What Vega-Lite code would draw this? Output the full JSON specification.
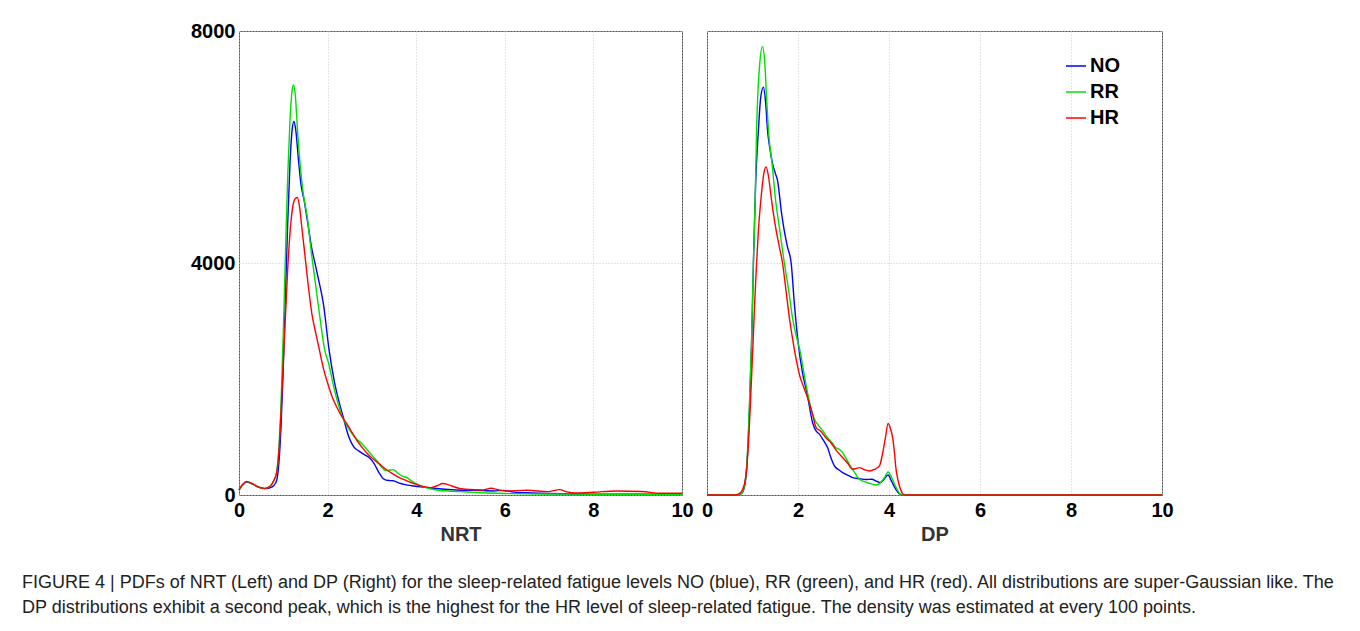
{
  "$schema": "https://vega.github.io/schema/vega-lite/v6.json",
  "padding": {"left": 22, "top": 20, "right": 5, "bottom": 5},
  "background": "white",
  "datasets": {
    "nrt": [
      {"x":0,"d":90,"level":"NO"},{"x":0.08,"d":170,"level":"NO"},{"x":0.17,"d":225,"level":"NO"},{"x":0.3,"d":190,"level":"NO"},{"x":0.45,"d":130,"level":"NO"},{"x":0.58,"d":110,"level":"NO"},{"x":0.7,"d":125,"level":"NO"},{"x":0.78,"d":160,"level":"NO"},{"x":0.85,"d":250,"level":"NO"},{"x":0.9,"d":550,"level":"NO"},{"x":0.95,"d":1200,"level":"NO"},{"x":1.0,"d":2200,"level":"NO"},{"x":1.05,"d":3500,"level":"NO"},{"x":1.1,"d":4700,"level":"NO"},{"x":1.15,"d":5700,"level":"NO"},{"x":1.2,"d":6300,"level":"NO"},{"x":1.24,"d":6440,"level":"NO"},{"x":1.28,"d":6300,"level":"NO"},{"x":1.34,"d":5800,"level":"NO"},{"x":1.4,"d":5350,"level":"NO"},{"x":1.47,"d":5080,"level":"NO"},{"x":1.55,"d":4700,"level":"NO"},{"x":1.64,"d":4260,"level":"NO"},{"x":1.72,"d":3980,"level":"NO"},{"x":1.8,"d":3700,"level":"NO"},{"x":1.91,"d":3270,"level":"NO"},{"x":2.03,"d":2520,"level":"NO"},{"x":2.16,"d":1930,"level":"NO"},{"x":2.26,"d":1600,"level":"NO"},{"x":2.35,"d":1350,"level":"NO"},{"x":2.48,"d":1000,"level":"NO"},{"x":2.59,"d":830,"level":"NO"},{"x":2.7,"d":760,"level":"NO"},{"x":2.82,"d":700,"level":"NO"},{"x":2.93,"d":650,"level":"NO"},{"x":3.05,"d":540,"level":"NO"},{"x":3.15,"d":400,"level":"NO"},{"x":3.28,"d":270,"level":"NO"},{"x":3.38,"d":250,"level":"NO"},{"x":3.48,"d":245,"level":"NO"},{"x":3.6,"d":210,"level":"NO"},{"x":3.75,"d":180,"level":"NO"},{"x":3.9,"d":160,"level":"NO"},{"x":4.1,"d":140,"level":"NO"},{"x":4.41,"d":116,"level":"NO"},{"x":4.88,"d":85,"level":"NO"},{"x":5.2,"d":80,"level":"NO"},{"x":5.5,"d":75,"level":"NO"},{"x":5.75,"d":70,"level":"NO"},{"x":5.96,"d":80,"level":"NO"},{"x":6.2,"d":50,"level":"NO"},{"x":6.6,"d":35,"level":"NO"},{"x":7.0,"d":25,"level":"NO"},{"x":7.5,"d":18,"level":"NO"},{"x":8.0,"d":14,"level":"NO"},{"x":8.5,"d":12,"level":"NO"},{"x":9.0,"d":12,"level":"NO"},{"x":9.5,"d":12,"level":"NO"},{"x":10,"d":10,"level":"NO"},
      {"x":0,"d":80,"level":"RR"},{"x":0.08,"d":170,"level":"RR"},{"x":0.17,"d":230,"level":"RR"},{"x":0.3,"d":190,"level":"RR"},{"x":0.45,"d":130,"level":"RR"},{"x":0.58,"d":110,"level":"RR"},{"x":0.7,"d":150,"level":"RR"},{"x":0.78,"d":240,"level":"RR"},{"x":0.85,"d":400,"level":"RR"},{"x":0.9,"d":800,"level":"RR"},{"x":0.95,"d":1600,"level":"RR"},{"x":1.0,"d":2800,"level":"RR"},{"x":1.05,"d":4200,"level":"RR"},{"x":1.1,"d":5500,"level":"RR"},{"x":1.15,"d":6450,"level":"RR"},{"x":1.2,"d":6980,"level":"RR"},{"x":1.23,"d":7070,"level":"RR"},{"x":1.27,"d":6900,"level":"RR"},{"x":1.32,"d":6300,"level":"RR"},{"x":1.38,"d":5700,"level":"RR"},{"x":1.45,"d":5200,"level":"RR"},{"x":1.54,"d":4800,"level":"RR"},{"x":1.63,"d":4200,"level":"RR"},{"x":1.72,"d":3680,"level":"RR"},{"x":1.82,"d":3100,"level":"RR"},{"x":1.93,"d":2520,"level":"RR"},{"x":2.03,"d":2250,"level":"RR"},{"x":2.12,"d":1930,"level":"RR"},{"x":2.22,"d":1620,"level":"RR"},{"x":2.33,"d":1350,"level":"RR"},{"x":2.45,"d":1180,"level":"RR"},{"x":2.55,"d":1060,"level":"RR"},{"x":2.66,"d":960,"level":"RR"},{"x":2.78,"d":880,"level":"RR"},{"x":2.88,"d":790,"level":"RR"},{"x":2.97,"d":710,"level":"RR"},{"x":3.1,"d":600,"level":"RR"},{"x":3.2,"d":500,"level":"RR"},{"x":3.32,"d":420,"level":"RR"},{"x":3.42,"d":430,"level":"RR"},{"x":3.48,"d":437,"level":"RR"},{"x":3.58,"d":380,"level":"RR"},{"x":3.68,"d":330,"level":"RR"},{"x":3.79,"d":300,"level":"RR"},{"x":3.9,"d":240,"level":"RR"},{"x":4.02,"d":186,"level":"RR"},{"x":4.2,"d":130,"level":"RR"},{"x":4.49,"d":81,"level":"RR"},{"x":4.8,"d":65,"level":"RR"},{"x":5.0,"d":58,"level":"RR"},{"x":5.3,"d":45,"level":"RR"},{"x":5.6,"d":35,"level":"RR"},{"x":6.0,"d":25,"level":"RR"},{"x":6.5,"d":20,"level":"RR"},{"x":7,"d":17,"level":"RR"},{"x":8,"d":14,"level":"RR"},{"x":9,"d":12,"level":"RR"},{"x":10,"d":10,"level":"RR"},
      {"x":0,"d":90,"level":"HR"},{"x":0.08,"d":180,"level":"HR"},{"x":0.17,"d":235,"level":"HR"},{"x":0.3,"d":195,"level":"HR"},{"x":0.45,"d":135,"level":"HR"},{"x":0.58,"d":115,"level":"HR"},{"x":0.7,"d":150,"level":"HR"},{"x":0.78,"d":240,"level":"HR"},{"x":0.85,"d":380,"level":"HR"},{"x":0.9,"d":750,"level":"HR"},{"x":0.95,"d":1450,"level":"HR"},{"x":1.0,"d":2300,"level":"HR"},{"x":1.05,"d":3100,"level":"HR"},{"x":1.1,"d":3900,"level":"HR"},{"x":1.16,"d":4600,"level":"HR"},{"x":1.22,"d":5000,"level":"HR"},{"x":1.28,"d":5120,"level":"HR"},{"x":1.32,"d":5130,"level":"HR"},{"x":1.37,"d":4950,"level":"HR"},{"x":1.42,"d":4600,"level":"HR"},{"x":1.47,"d":4260,"level":"HR"},{"x":1.55,"d":3700,"level":"HR"},{"x":1.65,"d":3100,"level":"HR"},{"x":1.73,"d":2800,"level":"HR"},{"x":1.81,"d":2520,"level":"HR"},{"x":1.9,"d":2200,"level":"HR"},{"x":2.0,"d":1930,"level":"HR"},{"x":2.1,"d":1700,"level":"HR"},{"x":2.2,"d":1525,"level":"HR"},{"x":2.3,"d":1380,"level":"HR"},{"x":2.43,"d":1234,"level":"HR"},{"x":2.55,"d":1080,"level":"HR"},{"x":2.66,"d":943,"level":"HR"},{"x":2.78,"d":820,"level":"HR"},{"x":2.9,"d":710,"level":"HR"},{"x":3.03,"d":620,"level":"HR"},{"x":3.17,"d":536,"level":"HR"},{"x":3.32,"d":440,"level":"HR"},{"x":3.48,"d":361,"level":"HR"},{"x":3.62,"d":300,"level":"HR"},{"x":3.79,"d":245,"level":"HR"},{"x":3.95,"d":195,"level":"HR"},{"x":4.1,"d":157,"level":"HR"},{"x":4.33,"d":128,"level":"HR"},{"x":4.47,"d":160,"level":"HR"},{"x":4.6,"d":198,"level":"HR"},{"x":4.75,"d":170,"level":"HR"},{"x":4.9,"d":130,"level":"HR"},{"x":5.11,"d":99,"level":"HR"},{"x":5.5,"d":87,"level":"HR"},{"x":5.69,"d":116,"level":"HR"},{"x":5.85,"d":90,"level":"HR"},{"x":6.04,"d":70,"level":"HR"},{"x":6.5,"d":81,"level":"HR"},{"x":6.97,"d":58,"level":"HR"},{"x":7.24,"d":93,"level":"HR"},{"x":7.4,"d":55,"level":"HR"},{"x":7.6,"d":35,"level":"HR"},{"x":8.0,"d":47,"level":"HR"},{"x":8.5,"d":70,"level":"HR"},{"x":9.1,"d":60,"level":"HR"},{"x":9.5,"d":30,"level":"HR"},{"x":10,"d":29,"level":"HR"}
    ],
    "dp": [
      {"x":0,"d":0,"level":"NO"},{"x":0.65,"d":0,"level":"NO"},{"x":0.75,"d":20,"level":"NO"},{"x":0.82,"d":130,"level":"NO"},{"x":0.88,"d":550,"level":"NO"},{"x":0.93,"d":1400,"level":"NO"},{"x":0.98,"d":2600,"level":"NO"},{"x":1.02,"d":4000,"level":"NO"},{"x":1.07,"d":5400,"level":"NO"},{"x":1.13,"d":6290,"level":"NO"},{"x":1.18,"d":6850,"level":"NO"},{"x":1.24,"d":7030,"level":"NO"},{"x":1.29,"d":6750,"level":"NO"},{"x":1.33,"d":6290,"level":"NO"},{"x":1.38,"d":5980,"level":"NO"},{"x":1.44,"d":5714,"level":"NO"},{"x":1.5,"d":5550,"level":"NO"},{"x":1.55,"d":5426,"level":"NO"},{"x":1.64,"d":4850,"level":"NO"},{"x":1.7,"d":4550,"level":"NO"},{"x":1.77,"d":4273,"level":"NO"},{"x":1.85,"d":4000,"level":"NO"},{"x":1.92,"d":3300,"level":"NO"},{"x":2.0,"d":2650,"level":"NO"},{"x":2.1,"d":2100,"level":"NO"},{"x":2.2,"d":1750,"level":"NO"},{"x":2.32,"d":1250,"level":"NO"},{"x":2.4,"d":1100,"level":"NO"},{"x":2.47,"d":1049,"level":"NO"},{"x":2.56,"d":940,"level":"NO"},{"x":2.65,"d":818,"level":"NO"},{"x":2.72,"d":650,"level":"NO"},{"x":2.8,"d":501,"level":"NO"},{"x":2.9,"d":430,"level":"NO"},{"x":2.98,"d":386,"level":"NO"},{"x":3.1,"d":340,"level":"NO"},{"x":3.2,"d":300,"level":"NO"},{"x":3.35,"d":280,"level":"NO"},{"x":3.5,"d":268,"level":"NO"},{"x":3.62,"d":272,"level":"NO"},{"x":3.72,"d":240,"level":"NO"},{"x":3.8,"d":213,"level":"NO"},{"x":3.88,"d":260,"level":"NO"},{"x":3.98,"d":346,"level":"NO"},{"x":4.06,"d":230,"level":"NO"},{"x":4.15,"d":98,"level":"NO"},{"x":4.22,"d":25,"level":"NO"},{"x":4.3,"d":0,"level":"NO"},{"x":5,"d":0,"level":"NO"},{"x":10,"d":0,"level":"NO"},
      {"x":0,"d":0,"level":"RR"},{"x":0.65,"d":0,"level":"RR"},{"x":0.75,"d":25,"level":"RR"},{"x":0.82,"d":150,"level":"RR"},{"x":0.88,"d":600,"level":"RR"},{"x":0.93,"d":1500,"level":"RR"},{"x":0.98,"d":2700,"level":"RR"},{"x":1.02,"d":4000,"level":"RR"},{"x":1.06,"d":5137,"level":"RR"},{"x":1.09,"d":6290,"level":"RR"},{"x":1.16,"d":7442,"level":"RR"},{"x":1.22,"d":7730,"level":"RR"},{"x":1.27,"d":7450,"level":"RR"},{"x":1.31,"d":6850,"level":"RR"},{"x":1.35,"d":6290,"level":"RR"},{"x":1.43,"d":5714,"level":"RR"},{"x":1.5,"d":5137,"level":"RR"},{"x":1.6,"d":4562,"level":"RR"},{"x":1.7,"d":4000,"level":"RR"},{"x":1.8,"d":3500,"level":"RR"},{"x":1.88,"d":3050,"level":"RR"},{"x":1.96,"d":2750,"level":"RR"},{"x":2.04,"d":2500,"level":"RR"},{"x":2.12,"d":2150,"level":"RR"},{"x":2.2,"d":1800,"level":"RR"},{"x":2.3,"d":1450,"level":"RR"},{"x":2.36,"d":1308,"level":"RR"},{"x":2.45,"d":1200,"level":"RR"},{"x":2.55,"d":1100,"level":"RR"},{"x":2.65,"d":990,"level":"RR"},{"x":2.75,"d":900,"level":"RR"},{"x":2.83,"d":818,"level":"RR"},{"x":2.9,"d":790,"level":"RR"},{"x":2.98,"d":731,"level":"RR"},{"x":3.05,"d":640,"level":"RR"},{"x":3.13,"d":530,"level":"RR"},{"x":3.25,"d":380,"level":"RR"},{"x":3.35,"d":271,"level":"RR"},{"x":3.5,"d":220,"level":"RR"},{"x":3.6,"d":195,"level":"RR"},{"x":3.71,"d":173,"level":"RR"},{"x":3.8,"d":200,"level":"RR"},{"x":3.9,"d":300,"level":"RR"},{"x":3.98,"d":397,"level":"RR"},{"x":4.06,"d":300,"level":"RR"},{"x":4.15,"d":138,"level":"RR"},{"x":4.22,"d":40,"level":"RR"},{"x":4.3,"d":0,"level":"RR"},{"x":5,"d":0,"level":"RR"},{"x":10,"d":0,"level":"RR"},
      {"x":0,"d":0,"level":"HR"},{"x":0.62,"d":0,"level":"HR"},{"x":0.7,"d":20,"level":"HR"},{"x":0.78,"d":90,"level":"HR"},{"x":0.85,"d":300,"level":"HR"},{"x":0.9,"d":750,"level":"HR"},{"x":0.95,"d":1500,"level":"HR"},{"x":1.0,"d":2400,"level":"HR"},{"x":1.05,"d":3350,"level":"HR"},{"x":1.09,"d":4000,"level":"HR"},{"x":1.13,"d":4562,"level":"HR"},{"x":1.19,"d":5137,"level":"HR"},{"x":1.25,"d":5550,"level":"HR"},{"x":1.3,"d":5656,"level":"HR"},{"x":1.35,"d":5500,"level":"HR"},{"x":1.41,"d":5137,"level":"HR"},{"x":1.46,"d":4850,"level":"HR"},{"x":1.52,"d":4562,"level":"HR"},{"x":1.59,"d":4280,"level":"HR"},{"x":1.66,"d":4000,"level":"HR"},{"x":1.74,"d":3500,"level":"HR"},{"x":1.82,"d":3000,"level":"HR"},{"x":1.89,"d":2650,"level":"HR"},{"x":1.97,"d":2300,"level":"HR"},{"x":2.04,"d":2050,"level":"HR"},{"x":2.12,"d":1870,"level":"HR"},{"x":2.2,"d":1703,"level":"HR"},{"x":2.3,"d":1450,"level":"HR"},{"x":2.4,"d":1163,"level":"HR"},{"x":2.5,"d":1100,"level":"HR"},{"x":2.6,"d":1000,"level":"HR"},{"x":2.72,"d":904,"level":"HR"},{"x":2.85,"d":760,"level":"HR"},{"x":2.98,"d":645,"level":"HR"},{"x":3.1,"d":540,"level":"HR"},{"x":3.2,"d":444,"level":"HR"},{"x":3.28,"d":460,"level":"HR"},{"x":3.35,"d":472,"level":"HR"},{"x":3.45,"d":440,"level":"HR"},{"x":3.57,"d":415,"level":"HR"},{"x":3.68,"d":440,"level":"HR"},{"x":3.79,"d":501,"level":"HR"},{"x":3.86,"d":720,"level":"HR"},{"x":3.92,"d":980,"level":"HR"},{"x":3.98,"d":1232,"level":"HR"},{"x":4.03,"d":1150,"level":"HR"},{"x":4.08,"d":990,"level":"HR"},{"x":4.12,"d":730,"level":"HR"},{"x":4.15,"d":472,"level":"HR"},{"x":4.2,"d":250,"level":"HR"},{"x":4.23,"d":155,"level":"HR"},{"x":4.28,"d":50,"level":"HR"},{"x":4.34,"d":0,"level":"HR"},{"x":5,"d":0,"level":"HR"},{"x":10,"d":0,"level":"HR"}
    ]
  },
  "title": {
    "text": [
      "FIGURE 4 | PDFs of NRT (Left) and DP (Right) for the sleep-related fatigue levels NO (blue), RR (green), and HR (red). All distributions are super-Gaussian like. The",
      "DP distributions exhibit a second peak, which is the highest for the HR level of sleep-related fatigue. The density was estimated at every 100 points."
    ],
    "orient": "bottom",
    "anchor": "start",
    "frame": "bounds",
    "dx": -168,
    "offset": 29,
    "font": "Liberation Sans",
    "fontSize": 18,
    "fontWeight": "normal",
    "color": "#222222",
    "lineHeight": 25
  },
  "spacing": 6,
  "resolve": {"legend": {"color": "independent"}},
  "hconcat": [
    {
      "width": 443,
      "height": 464,
      "data": {"name": "nrt"},
      "mark": {"type": "line", "strokeWidth": 1.4, "interpolate": "monotone"},
      "encoding": {
        "x": {"field": "x", "type": "quantitative", "scale": {"domain": [0, 10], "nice": false}, "axis": {"values": [0, 2, 4, 6, 8, 10], "title": "NRT"}},
        "y": {"field": "d", "type": "quantitative", "scale": {"domain": [0, 8000], "nice": false}, "axis": {"values": [0, 4000, 8000], "title": null, "format": "d"}},
        "color": {"field": "level", "type": "nominal", "scale": {"domain": ["NO", "RR", "HR"], "range": ["#0000ff", "#00e000", "#ff0000"]}, "legend": null}
      }
    },
    {
      "width": 455,
      "height": 464,
      "data": {"name": "dp"},
      "mark": {"type": "line", "strokeWidth": 1.4, "interpolate": "monotone"},
      "encoding": {
        "x": {"field": "x", "type": "quantitative", "scale": {"domain": [0, 10], "nice": false}, "axis": {"values": [0, 2, 4, 6, 8, 10], "title": "DP"}},
        "y": {"field": "d", "type": "quantitative", "scale": {"domain": [0, 8000], "nice": false}, "axis": {"values": [0, 4000, 8000], "title": null, "labels": false}},
        "color": {"field": "level", "type": "nominal", "scale": {"domain": ["NO", "RR", "HR"], "range": ["#0000ff", "#00e000", "#ff0000"]},
          "legend": {"title": null, "orient": "none", "legendX": 358, "legendY": 24, "symbolType": "stroke", "symbolSize": 400, "symbolStrokeWidth": 1.5, "labelFontSize": 20, "labelFontWeight": "bold", "labelFont": "Liberation Sans", "labelColor": "#000000", "rowPadding": 5, "labelOffset": 3, "padding": 0}}
      }
    }
  ],
  "config": {
    "view": {"stroke": "#555555", "strokeWidth": 1},
    "axis": {
      "labelFont": "Liberation Sans", "labelFontSize": 20, "labelFontWeight": "bold", "labelColor": "#000000",
      "titleFont": "Liberation Sans", "titleFontSize": 20, "titleFontWeight": "bold", "titleColor": "#333333",
      "grid": true, "gridColor": "#c8c8c8", "gridDash": [1, 2], "domain": false, "ticks": false,
      "labelFlush": false, "labelOverlap": false, "labelPadding": 5, "titlePadding": 4
    },
    "axisY": {"labelPadding": 4}
  }
}
